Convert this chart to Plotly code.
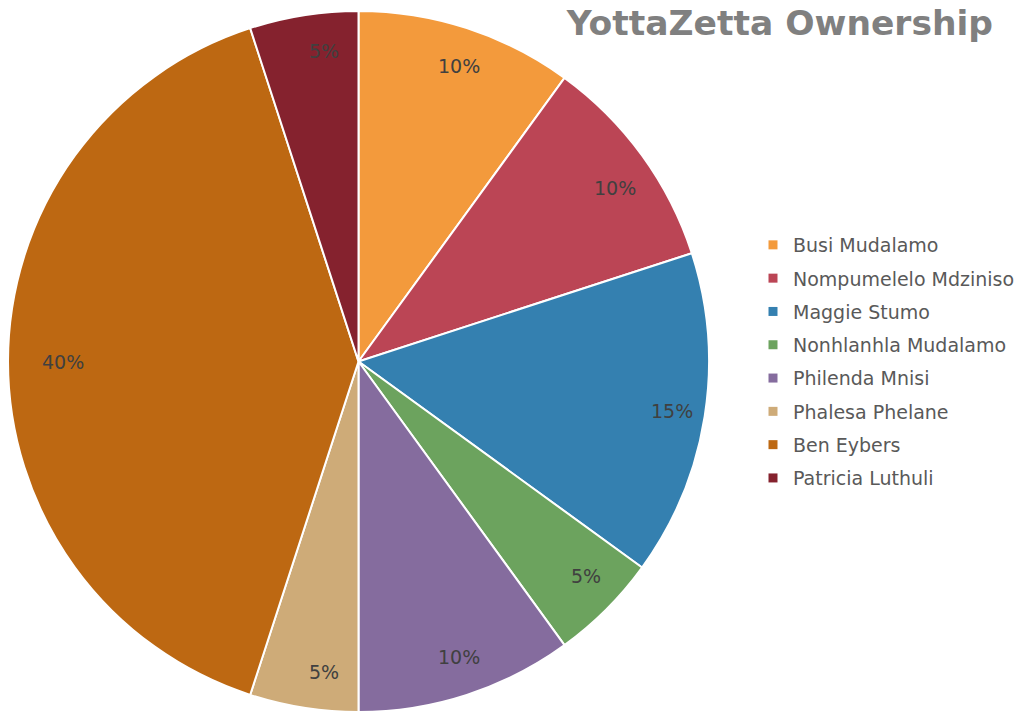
import math
import plotly.graph_objects as go

owners = [
    "Busi Mudalamo",
    "Nompumelelo Mdziniso",
    "Maggie Stumo",
    "Nonhlanhla Mudalamo",
    "Philenda Mnisi",
    "Phalesa Phelane",
    "Ben Eybers",
    "Patricia Luthuli",
]
shares = [10, 10, 15, 5, 10, 5, 40, 5]
colors = ["#F39A3C", "#BB4555", "#3480B0", "#6CA35E",
          "#856C9E", "#CEAB78", "#BD6812", "#85222E"]

W, H = 1024, 719
off = 8  # page body margin
R = 350.5
cx, cy = R, 361.5 - off  # pie centre in figure pixels
label_size = 19

fig = go.Figure()
fig.add_trace(go.Pie(
    labels=owners,
    values=shares,
    sort=False,
    direction="clockwise",
    rotation=0,
    marker=dict(colors=colors, line=dict(color="white", width=2)),
    textinfo="none",
    hoverinfo="label+percent",
    showlegend=False,
    domain=dict(x=[(cx - R) / W, (cx + R) / W],
                y=[(H - cy - R) / H, (H - cy + R) / H]),
))

# legend entries (one group each so the spacing can be opened up)
for name, col in zip(owners, colors):
    fig.add_trace(go.Scatter(
        x=[None], y=[None], mode="markers", name=name,
        legendgroup=name, showlegend=True,
        marker=dict(symbol="square", size=9, color=col),
        hoverinfo="skip",
    ))

# percentage labels placed just inside the rim (like "inside end")
char_w = {"%": 0.95}
total = sum(shares)
cum = 0
for v in shares:
    mid = (cum + v / 2) / total * 2 * math.pi
    cum += v
    txt = f"{round(v / total * 100)}%"
    w = sum(char_w.get(c, 0.636) for c in txt) * label_size
    h = label_size
    d = R - 11 - (w / 2 * abs(math.sin(mid)) + h / 2 * abs(math.cos(mid)))
    px = cx + d * math.sin(mid)
    py = cy - d * math.cos(mid)
    fig.add_annotation(
        x=px / W, y=1 - py / H, xref="paper", yref="paper",
        text=txt, showarrow=False,
        font=dict(family="DejaVu Sans", size=label_size, color="#404040"),
    )

fig.update_layout(
    width=W, height=H,
    margin=dict(l=0, r=0, t=0, b=0, autoexpand=False),
    paper_bgcolor="white",
    plot_bgcolor="white",
    xaxis=dict(visible=False),
    yaxis=dict(visible=False),
    title=dict(
        text="<b>YottaZetta Ownership</b>",
        font=dict(family="DejaVu Sans", size=34.5, color="#808080"),
        x=(993 - off) / W, xanchor="right", xref="paper",
        y=1.0, yanchor="top", yref="container",
        pad=dict(t=3, b=0, l=0, r=0),
    ),
    legend=dict(
        x=(793 - off - 40) / W, xanchor="left",
        y=1 - (361.5 - off) / H, yanchor="middle",
        font=dict(family="DejaVu Sans", size=19, color="#595959"),
        traceorder="grouped",
        tracegroupgap=5.6,
        bgcolor="rgba(0,0,0,0)",
    ),
)

fig.write_html("out.html")
